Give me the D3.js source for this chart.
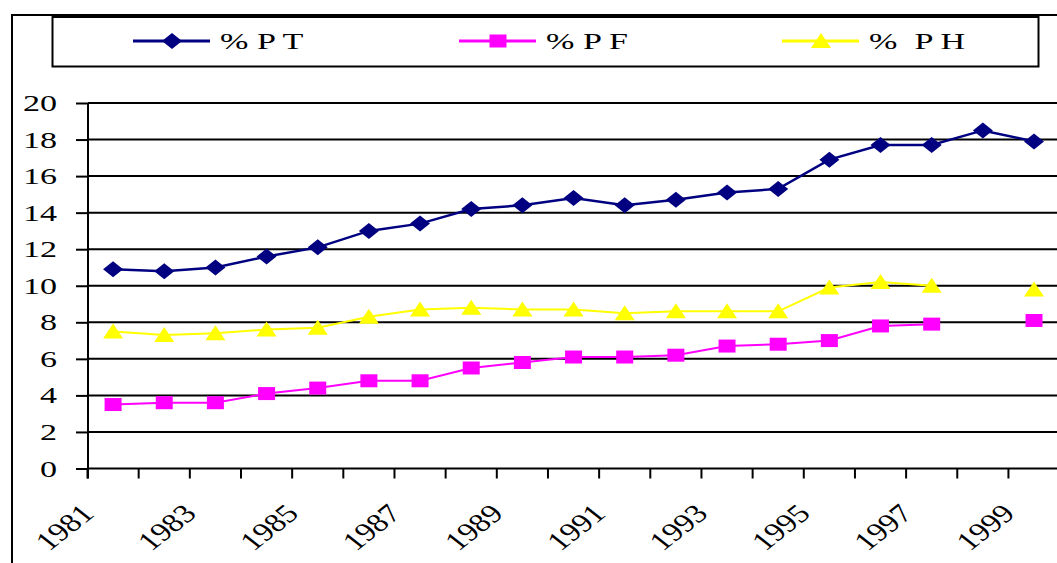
<!DOCTYPE html>
<html>
<head>
<meta charset="utf-8">
<script src="https://cdn.jsdelivr.net/npm/d3@7"></script>
<style>
  html, body { margin: 0; padding: 0; background: #fff; }
  svg { display: block; }
  text { font-family: "Liberation Serif", "Times New Roman", serif; fill: #000; }
</style>
</head>
<body>
<svg id="chart" width="1057" height="563"></svg>
<script>
// Years on the category axis
const years = ["1981","1982","1983","1984","1985","1986","1987","1988","1989","1990",
               "1991","1992","1993","1994","1995","1996","1997","1998","1999"];
// Series values (percent); null = no value for that year
const pt = [10.9, 10.8, 11.0, 11.6, 12.1, 13.0, 13.4, 14.2, 14.4, 14.8,
            14.4, 14.7, 15.1, 15.3, 16.9, 17.7, 17.7, 18.5, 17.9];
const pf = [3.5, 3.6, 3.6, 4.1, 4.4, 4.8, 4.8, 5.5, 5.8, 6.1,
            6.1, 6.2, 6.7, 6.8, 7.0, 7.8, 7.9, null, 8.1];
const ph = [7.5, 7.3, 7.4, 7.6, 7.7, 8.3, 8.7, 8.8, 8.7, 8.7,
            8.5, 8.6, 8.6, 8.6, 9.9, 10.2, 10.0, null, 9.8];
const seriesNames = ["% P T", "% P F", "%  P H"];
const yTicks = [0, 2, 4, 6, 8, 10, 12, 14, 16, 18, 20];
const xLabelYears = ["1981","1983","1985","1987","1989","1991","1993","1995","1997","1999"];

const svg = d3.select("#chart");
const SX = 1.42;          // horizontal text stretch
const FS = 24;            // font size

const x = d3.scaleBand().domain(years).range([87.5, 1059.6]).padding(0);
const y = d3.scaleLinear().domain([0, 20]).range([468.5, 103]);
const cx = d => x(d) + x.bandwidth() / 2;

const series = [
  { name: seriesNames[0], values: pt, color: "#000080", shape: "diamond", width: 2.5 },
  { name: seriesNames[1], values: pf, color: "#FF00FF", shape: "square", width: 2 },
  { name: seriesNames[2], values: ph, color: "#FFFF00", shape: "triangle", width: 2 }
];

// marker outlines, wider than tall
function markerPath(shape) {
  if (shape === "diamond") return "M0,-8L10,0L0,8L-10,0Z";
  if (shape === "square") return "M-8.5,-6.5H8.5V6.5H-8.5Z";
  return "M0,-8L10,7L-10,7Z";
}

// chart frame
svg.append("path")
  .attr("d", "M12,563V15H1057")
  .attr("fill", "none").attr("stroke", "#000").attr("stroke-width", 2);

// horizontal gridlines
svg.append("g").selectAll("line").data(yTicks.filter(v => v > 0)).join("line")
  .attr("x1", 88).attr("x2", 1060)
  .attr("y1", d => y(d)).attr("y2", d => y(d))
  .attr("stroke", "#000").attr("stroke-width", 2);

// y axis
const yAxis = svg.append("g").attr("transform", "translate(88,0)")
  .call(d3.axisLeft(y).tickValues(yTicks).tickSize(12).tickSizeOuter(0));
yAxis.select(".domain").attr("stroke-width", 2).attr("d", `M0,${y(20)}V${y(0) + 10}`);
yAxis.selectAll(".tick line").attr("stroke-width", 2);
yAxis.selectAll(".tick text")
  .attr("x", null).attr("dy", null)
  .attr("transform", `translate(-31,7.5) scale(${SX},1)`)
  .attr("text-anchor", "end")
  .style("font-size", FS + "px")
  .style("font-family", "'Liberation Serif', serif");

// x axis
const xAxis = svg.append("g").attr("transform", `translate(0,${y(0)})`);
xAxis.append("line").attr("x1", 87.5).attr("x2", 1060).attr("y1", 0).attr("y2", 0)
  .attr("stroke", "#000").attr("stroke-width", 2);
xAxis.selectAll("line.tk").data(years).join("line").attr("class", "tk")
  .attr("x1", d => x(d)).attr("x2", d => x(d))
  .attr("y1", 0).attr("y2", 10)
  .attr("stroke", "#000").attr("stroke-width", 2);
xAxis.selectAll("text").data(xLabelYears).join("text")
  .attr("transform", d => `translate(${cx(d) - 17.5},${515 - y(0)}) scale(1.27,1) rotate(-45)`)
  .attr("text-anchor", "end")
  .style("font-size", "26px")
  .text(d => d);

// series lines and markers
series.forEach(s => {
  const pts = years.map((yr, i) => ({ yr, v: s.values[i] }));
  const line = d3.line()
    .defined(d => d.v != null)
    .x(d => cx(d.yr)).y(d => y(d.v));
  svg.append("path").datum(pts)
    .attr("d", line).attr("fill", "none")
    .attr("stroke", s.color).attr("stroke-width", s.width);
  svg.append("g").selectAll("path").data(pts.filter(d => d.v != null)).join("path")
    .attr("d", markerPath(s.shape))
    .attr("transform", d => `translate(${cx(d.yr)},${y(d.v)})`)
    .attr("fill", s.color);
});

// legend
const legend = svg.append("g");
legend.append("rect").attr("x", 52.5).attr("y", 17).attr("width", 986).attr("height", 49.5)
  .attr("fill", "#fff").attr("stroke", "#000").attr("stroke-width", 2);
const legendX = [133, 459, 782];
series.forEach((s, i) => {
  const g = legend.append("g").attr("transform", `translate(${legendX[i]},41)`);
  g.append("line").attr("x1", 0).attr("x2", 77).attr("y1", 0).attr("y2", 0)
    .attr("stroke", s.color).attr("stroke-width", 3);
  g.append("path").attr("d", markerPath(s.shape)).attr("transform", "translate(39,0)")
    .attr("fill", s.color);
  g.append("text").attr("transform", `translate(87,8) scale(${SX},1)`)
    .style("font-size", FS + "px")
    .attr("xml:space", "preserve")
    .style("white-space", "pre")
    .text(s.name);
});
</script>
</body>
</html>
